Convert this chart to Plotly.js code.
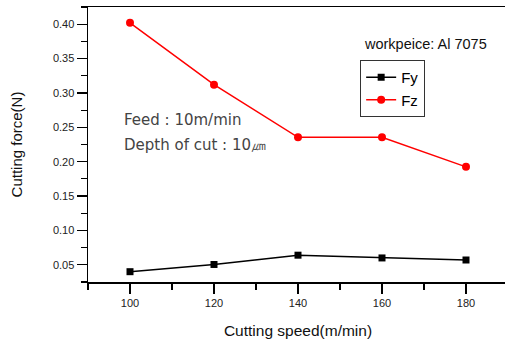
<!DOCTYPE html>
<html>
<head>
<meta charset="utf-8">
<script src="https://cdn.plot.ly/plotly-3.0.1.min.js"></script>
<style>
html,body{margin:0;padding:0;overflow:hidden;background:#fff;}
#chart{width:516px;height:344px;}
</style>
</head>
<body>
<div id="chart"></div>
<script>
var speeds = [100, 120, 140, 160, 180];
var fy = [0.040, 0.0505, 0.064, 0.060, 0.057];
var fz = [0.402, 0.312, 0.2355, 0.2355, 0.1925];
var seriesNames = ['Fy', 'Fz'];
var xTitle = 'Cutting speed(m/min)';
var yTitle = 'Cutting force(N)';
var noteFeed = 'Feed : 10m/min';
var noteDepth = 'Depth of cut : 10㎛';
var noteWork = 'workpeice: Al 7075';

var traces = [
  {x: speeds, y: fy, name: seriesNames[0], type: 'scatter', mode: 'lines+markers',
   line: {color: '#000000', width: 1.5}, marker: {symbol: 'square', size: 7, color: '#000000'}},
  {x: speeds, y: fz, name: seriesNames[1], type: 'scatter', mode: 'lines+markers',
   line: {color: '#ff0000', width: 1.5}, marker: {symbol: 'circle', size: 8, color: '#ff0000'}}
];

var layout = {
  width: 516, height: 344,
  margin: {l: 88, r: 8, t: 7, b: 62},
  paper_bgcolor: '#ffffff', plot_bgcolor: '#ffffff',
  showlegend: true,
  font: {family: 'Liberation Sans, Arial, sans-serif', color: '#000'},
  xaxis: {
    range: [90, 190], tick0: 100, dtick: 20, ticks: 'outside', ticklen: 10, tickwidth: 1.2,
    tickcolor: '#000', showline: true, linecolor: '#000', linewidth: 1.5, mirror: true,
    showgrid: false, zeroline: false,
    tickfont: {size: 11, family: 'Liberation Sans, Arial, sans-serif', color: '#222'},
    minor: {dtick: 10, ticks: 'outside', ticklen: 6, tickwidth: 1.2, tickcolor: '#000', showgrid: false},
    title: {text: xTitle, font: {size: 15.5, family: 'Liberation Sans, Arial, sans-serif', color: '#111'}, standoff: 17}
  },
  yaxis: {
    range: [0.025, 0.425], tick0: 0.05, dtick: 0.05, tickformat: '.2f', ticks: 'outside', ticklen: 10, tickwidth: 1.2,
    tickcolor: '#000', showline: true, linecolor: '#000', linewidth: 1.5, mirror: true,
    showgrid: false, zeroline: false,
    tickfont: {size: 11, family: 'Liberation Sans, Arial, sans-serif', color: '#222'},
    minor: {dtick: 0.025, ticks: 'outside', ticklen: 6, tickwidth: 1.2, tickcolor: '#000', showgrid: false},
    title: {text: yTitle, font: {size: 15, family: 'Liberation Sans, Arial, sans-serif', color: '#111'}, standoff: 26}
  },
  legend: {
    x: 0.648, y: 0.807, xanchor: 'left', yanchor: 'top',
    bgcolor: '#ffffff', bordercolor: '#333', borderwidth: 1,
    font: {size: 15, family: 'Liberation Sans, Arial, sans-serif', color: '#000'},
    itemwidth: 30, tracegroupgap: 0
  },
  annotations: [
    {xref: 'paper', yref: 'paper', x: (122 - 88) / 419.6, y: (282 - 120) / 275, xanchor: 'left', yanchor: 'middle',
     text: noteFeed, showarrow: false, font: {size: 15, family: 'DejaVu Sans, sans-serif', color: '#444'}},
    {xref: 'paper', yref: 'paper', x: (122 - 88) / 419.6, y: (282 - 145) / 275, xanchor: 'left', yanchor: 'middle',
     text: noteDepth, showarrow: false, font: {size: 15, family: 'DejaVu Sans, sans-serif', color: '#444'}},
    {xref: 'paper', yref: 'paper', x: (362 - 88) / 419.6, y: (282 - 44) / 275, xanchor: 'left', yanchor: 'middle',
     text: noteWork, showarrow: false, font: {size: 14.5, family: 'Liberation Sans, Arial, sans-serif', color: '#111'}}
  ]
};

Plotly.newPlot('chart', traces, layout, {displayModeBar: false, staticPlot: true});
</script>
</body>
</html>
